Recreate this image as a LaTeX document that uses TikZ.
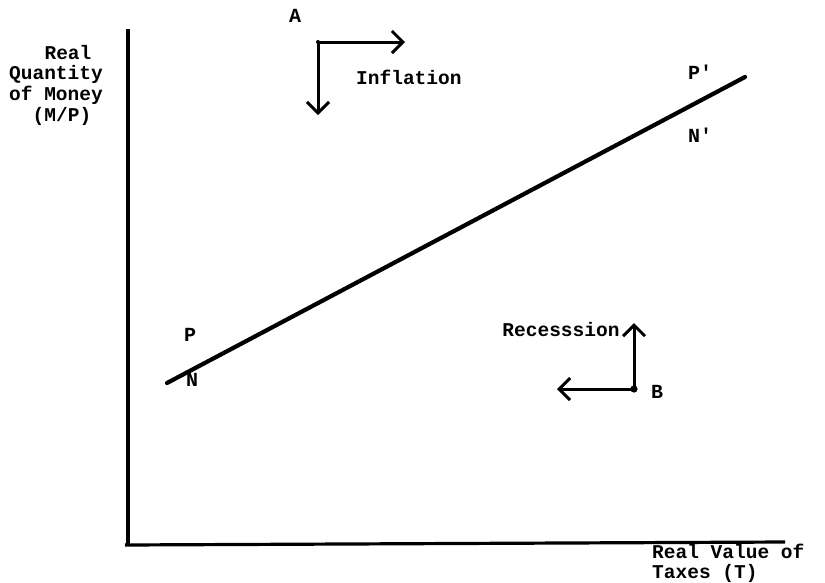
\documentclass[tikz,border=0pt]{standalone}
\usepackage{fontspec}
\setmainfont{Liberation Mono}
\newfontfamily\rawmono{Liberation Mono}
\usetikzlibrary{arrows.meta}
\begin{document}
\begin{tikzpicture}[x=1pt,y=-1pt,
  axis/.style={line width=3.2pt},
  curve/.style={line width=4.2pt, line cap=round},
  move/.style={line width=3pt, -{Straight Barb[length=11pt,width=22pt,line width=3pt]}},
  lbl/.style={font=\bfseries\fontsize{19.5}{20}\selectfont, inner sep=0pt},
  ptl/.style={font=\rawmono\bfseries\fontsize{20}{22}\selectfont, inner sep=0pt}]
\useasboundingbox (0,0) rectangle (825,582);
% axes
\coordinate (Ytop) at (128,29);
\coordinate (O) at (128,545);
\coordinate (Xleft) at (125,545);
\coordinate (Xend) at (785,542);
\draw[axis] (Ytop) -- (O);
\draw[axis] (Xleft) -- (Xend);
% main line
\coordinate (L0) at (167,383);
\coordinate (L1) at (745,77);
\draw[curve] (L0) -- (L1);
% point A arrows
\coordinate (A0) at (318,42);
\coordinate (Ar) at (405,42);
\coordinate (Ad) at (318,115);
\draw[move] (A0) -- (Ar);
\draw[move] (A0) -- (Ad);
\fill (A0) circle (2pt);
% point B arrows
\coordinate (B0) at (634,389);
\coordinate (Bu) at (634,323);
\coordinate (Bl) at (557,389);
\draw[move] (B0) -- (Bu);
\draw[move] (B0) -- (Bl);
\fill (B0) circle (3.6pt);
% labels
\node[lbl] (y1) at (68,53) {Real};
\node[lbl] (y2) at (56,74) {Quantity};
\node[lbl] (y3) at (56,95) {of Money};
\node[lbl] (y4) at (62,116) {(M/P)};
\node[ptl] (la) at (295,16) {A};
\node[lbl, anchor=west] (infl) at (356,77) {Inflation};
\node[ptl] (pp) at (700,72) {P'};
\node[ptl] (np) at (700,135) {N'};
\node[ptl] (p) at (190,335) {P};
\node[ptl] (n) at (192,380) {N};
\node[lbl] (rec) at (561,330) {Recesssion};
\node[ptl] (lb) at (657,392) {B};
\node[lbl, anchor=base west, align=left] (x1) at (652,578) {Real Value of\\Taxes (T)};
\end{tikzpicture}
\end{document}
